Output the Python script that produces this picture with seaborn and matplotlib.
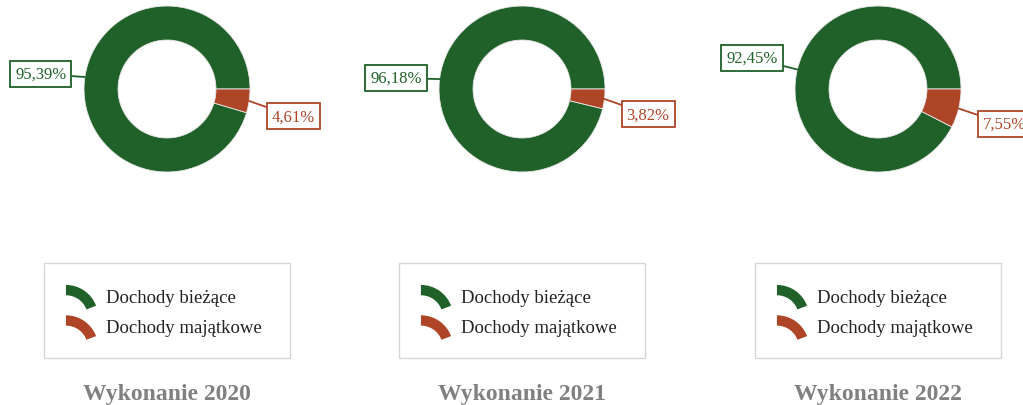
import numpy as np
import matplotlib
matplotlib.use("Agg")
import matplotlib.pyplot as plt
import seaborn as sns
from matplotlib.patches import Wedge, Patch
from matplotlib.legend_handler import HandlerPatch

# ---- data ----
years = ["2020", "2021", "2022"]
biezace = [95.39, 96.18, 92.45]
majatkowe = [4.61, 3.82, 7.55]
categories = ["Dochody bieżące", "Dochody majątkowe"]
titles = ["Wykonanie 2020", "Wykonanie 2021", "Wykonanie 2022"]

sns.set_theme(style="white")
plt.rcParams['font.family'] = ['Liberation Serif', 'DejaVu Serif']

palette = ["#1f6129", "#ae4527"]

W, H = 1023, 406
fig = plt.figure(figsize=(W / 100, H / 100), dpi=100)

R_PX = 83.0        # outer radius in pixels
HALF = 180.0       # half-size of pie axes in pixels
centers_x = [167, 522, 878]
center_y = 90      # from top


class ArcHandler(HandlerPatch):
    def create_artists(self, legend, orig_handle, xdescent, ydescent,
                       width, height, fontsize, trans):
        r = width
        cx = -xdescent
        cy = -ydescent + height - r
        t1 = np.degrees(np.arcsin(max(min((r - height) / r, 1), 0)))
        p = Wedge((cx, cy), r, t1, 90, width=r * 0.32,
                  facecolor=orig_handle.get_facecolor(), edgecolor="none",
                  transform=trans)
        return [p]


for i in range(3):
    cx = centers_x[i]
    ax = fig.add_axes([(cx - HALF) / W, (H - center_y - HALF) / H,
                       2 * HALF / W, 2 * HALF / H])
    vals = [biezace[i], majatkowe[i]]
    wedges, _ = ax.pie(vals, colors=palette, startangle=0, counterclock=True,
                       radius=1.0,
                       wedgeprops=dict(width=0.41, edgecolor="#e8e8e8", linewidth=0.6))
    lim = HALF / R_PX
    ax.set_xlim(-lim, lim)
    ax.set_ylim(-lim, lim)
    ax.set_aspect("equal")
    ax.axis("off")

    # data labels
    start = 0.0
    for v, col in zip(vals, palette):
        mid = np.radians(start + v * 3.6 / 2)
        start += v * 3.6
        ex, ey = np.cos(mid), np.sin(mid)
        sgn = 1 if ex >= 0 else -1
        ly = (2.1 * ey - 0.12) if sgn < 0 else (ey - 0.186)
        txt = f"{v:.2f}".replace(".", ",") + "%"
        ax.annotate(txt, xy=(ex, ey), xytext=(1.52 * sgn, ly),
                    ha="center", va="center", fontsize=12, color=col,
                    bbox=dict(boxstyle="square,pad=0.3", fc="white", ec=col, lw=1.3),
                    arrowprops=dict(arrowstyle="-", color=col, lw=1.3,
                                    shrinkA=0, shrinkB=0),
                    annotation_clip=False)

    # legend
    handles = [Patch(facecolor=c) for c in palette]
    lx0, lx1 = cx - 123, cx + 123
    ltop = 264
    fig.legend(handles, categories, handler_map={Patch: ArcHandler()},
               loc="upper left", mode="expand",
               bbox_to_anchor=(lx0 / W, (H - ltop) / H - 0.001, (lx1 - lx0) / W, 0.001),
               bbox_transform=fig.transFigure,
               fontsize=13.5, frameon=True, fancybox=False, shadow=False,
               edgecolor="#cccccc", borderpad=1.17, labelspacing=0.51,
               handlelength=1.72, handleheight=1.33, handletextpad=0.42,
               borderaxespad=0, labelcolor="#222222")

    fig.text(cx / W, 1 - 395 / H, titles[i], ha="center", va="center",
             fontsize=17, fontweight="bold", color="#808080")

fig.savefig("out.png", dpi=100, facecolor="white")
